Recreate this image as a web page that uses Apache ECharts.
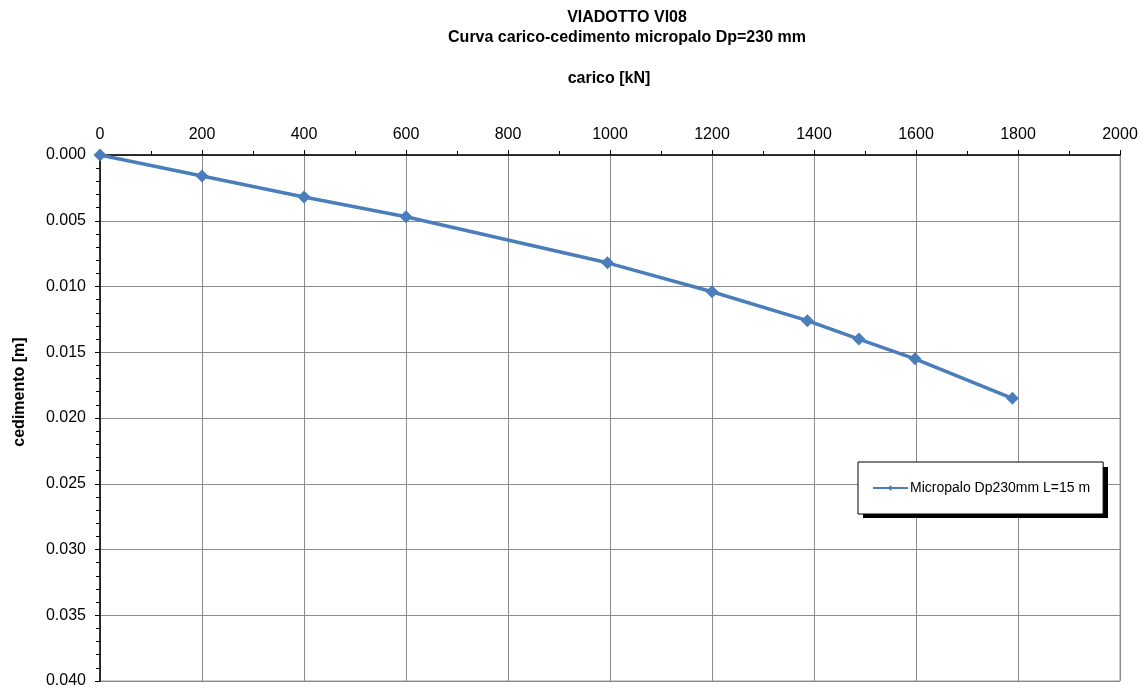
<!DOCTYPE html>
<html>
<head>
<meta charset="utf-8">
<title>VIADOTTO VI08 - Curva carico-cedimento</title>
<script src="https://cdn.jsdelivr.net/npm/echarts@6/dist/echarts.min.js"></script>
<style>
  html, body { margin: 0; padding: 0; background: #fff; }
  #chart { width: 1144px; height: 689px; }
</style>
</head>
<body>
<div id="chart"></div>
<script>
// Prova di carico sul micropalo: carico applicato [kN] e cedimento misurato [m]
const loads = [0, 200, 400, 600, 995, 1200, 1387, 1488, 1598, 1789];
const settlements = [0, 0.0016, 0.0032, 0.0047, 0.0082, 0.0104, 0.0126, 0.0140, 0.0155, 0.0185];
const seriesName = 'Micropalo Dp230mm L=15 m';
const titleLines = ['VIADOTTO VI08', 'Curva carico-cedimento micropalo Dp=230 mm'];
const xAxisTitle = 'carico [kN]';
const yAxisTitle = 'cedimento [m]';

const FONT = '"Liberation Sans", Arial, sans-serif';
const chart = echarts.init(document.getElementById('chart'), null, { renderer: 'canvas' });

// legend box geometry (the drop shadow is a plain black rectangle behind it)
const LEG_X = 858, LEG_Y = 462, LEG_W = 245, LEG_H = 51, SHADOW = 5;

chart.setOption({
  animation: false,
  backgroundColor: '#ffffff',
  textStyle: { fontFamily: FONT },
  title: [
    {
      text: titleLines.join('\n'),
      left: 622, top: 3,
      textAlign: 'center',
      textStyle: { fontFamily: FONT, fontSize: 16, fontWeight: 'bold', color: '#000', lineHeight: 20 }
    },
    {
      text: xAxisTitle,
      left: 604, top: 66,
      textAlign: 'center',
      textStyle: { fontFamily: FONT, fontSize: 16, fontWeight: 'bold', color: '#000' }
    }
  ],
  graphic: [
    {
      type: 'text',
      x: 20, y: 392,
      rotation: Math.PI / 2,
      style: {
        text: yAxisTitle,
        font: 'bold 16px ' + FONT,
        fill: '#000',
        align: 'center',
        verticalAlign: 'middle'
      }
    },
    {
      type: 'rect',
      z: 1,
      shape: { x: LEG_X + SHADOW, y: LEG_Y + SHADOW, width: LEG_W, height: LEG_H },
      style: { fill: '#000000' }
    }
  ],
  legend: {
    data: [seriesName],
    left: LEG_X, top: LEG_Y,
    z: 5,
    orient: 'horizontal',
    padding: [19, 13, 19, 14],
    itemWidth: 35, itemHeight: 7,
    itemGap: 0,
    backgroundColor: '#ffffff',
    borderColor: '#000000',
    borderWidth: 1,
    borderRadius: 0,
    textStyle: { fontFamily: FONT, fontSize: 14, color: '#000', padding: [0, 0, 0, -3] }
  },
  grid: {
    left: 100, right: 24, top: 155, bottom: 8,
    show: true,
    borderColor: '#999999',
    borderWidth: 1,
    containLabel: false
  },
  xAxis: {
    type: 'value',
    position: 'top',
    min: 0, max: 2000, interval: 200,
    axisLine: { show: true, onZero: false, lineStyle: { color: '#000', width: 1.5 } },
    axisTick: { show: true, length: 5, lineStyle: { color: '#000' } },
    minorTick: { show: true, splitNumber: 2, length: 4, lineStyle: { color: '#000' } },
    axisLabel: { fontFamily: FONT, fontSize: 16, color: '#000', margin: 12, formatter: v => String(v) },
    splitLine: { show: true, lineStyle: { color: '#8c8c8c', width: 1 } },
    minorSplitLine: { show: false }
  },
  yAxis: {
    type: 'value',
    inverse: true,
    min: 0, max: 0.04, interval: 0.005,
    axisLine: { show: true, onZero: false, lineStyle: { color: '#000', width: 1.5 } },
    axisTick: { show: true, length: 5, lineStyle: { color: '#000' } },
    minorTick: { show: true, splitNumber: 5, length: 4, lineStyle: { color: '#000' } },
    axisLabel: {
      fontFamily: FONT, fontSize: 16, color: '#000', margin: 14,
      formatter: v => v.toFixed(3)
    },
    splitLine: { show: true, lineStyle: { color: '#8c8c8c', width: 1 } }
  },
  series: [
    {
      name: seriesName,
      type: 'line',
      data: loads.map((x, i) => [x, settlements[i]]),
      symbol: 'diamond',
      symbolSize: 13,
      lineStyle: { color: '#4a7ebb', width: 3.5 },
      itemStyle: { color: '#4a7ebb' },
      clip: false
    }
  ]
});
</script>
</body>
</html>
